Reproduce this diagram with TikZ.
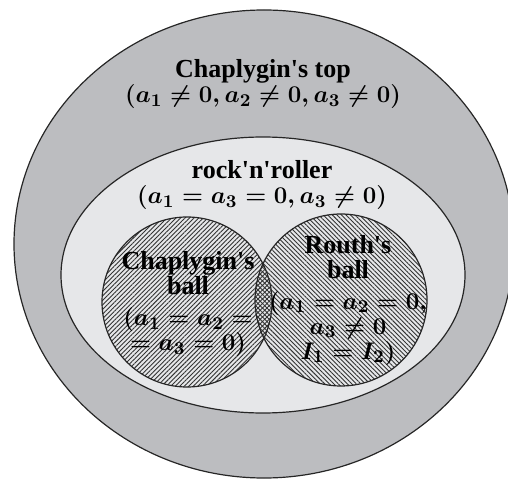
\documentclass[tikz,border=0pt]{standalone}
\usepackage{fontspec}
\setmainfont{Liberation Serif}
\usepackage{tikz}
\usetikzlibrary{shapes.geometric,patterns.meta}

\definecolor{topgray}{RGB}{188,189,192}
\definecolor{rnrgray}{RGB}{230,231,233}
\newcommand{\qs}{\textquotesingle}

\begin{document}
\begin{tikzpicture}[
  x=0.5pt, y=-0.5pt,
  font=\fontsize{13}{12.5}\selectfont\bfseries\boldmath,
  region/.style={draw=black!85, line width=0.6pt, ellipse, inner sep=0pt},
  ball/.style={draw=black!85, line width=0.6pt, circle, inner sep=0pt},
  lbl/.style={align=center, inner sep=1pt}
]
\useasboundingbox (0,0) rectangle (508,480);

% ---------- regions ----------
\node[region, fill=topgray, minimum width=250pt, minimum height=234pt] (top) at (264,244) {};
\node[region, fill=rnrgray, minimum width=202pt, minimum height=138pt] (rnr) at (263,275) {};

% ---------- balls (hatched, overlap gives cross-hatch) ----------
\node[ball, minimum size=85pt,
      pattern={Lines[angle=45, distance=1.6pt, line width=0.45pt]},
      pattern color=black!80] (chb) at (187,302) {};
\node[ball, minimum size=86pt,
      pattern={Lines[angle=-45, distance=1.6pt, line width=0.45pt]},
      pattern color=black!80] (rtb) at (341,300) {};

% ---------- labels ----------
\node[lbl] (toplbl) at (263,84) {Chaplygin\qs s top\\$(a_1\neq0, a_2\neq0, a_3\neq0)$};
\node[lbl] (rnrlbl) at (262,185) {rock\qs n\qs roller\\$(a_1=a_3=0, a_3\neq0)$};
\node[lbl] (chblbl) at (188,304) {Chaplygin\qs s\\ball\\[3pt]$(a_1=a_2=$\\$=a_3=0)$};
\node[lbl] (rtblbl) at (348,300) {Routh\qs s\\ball\\[3pt]$(a_1=a_2=0,$\\$a_3\neq0$\\$I_1=I_2)$};

\end{tikzpicture}
\end{document}
